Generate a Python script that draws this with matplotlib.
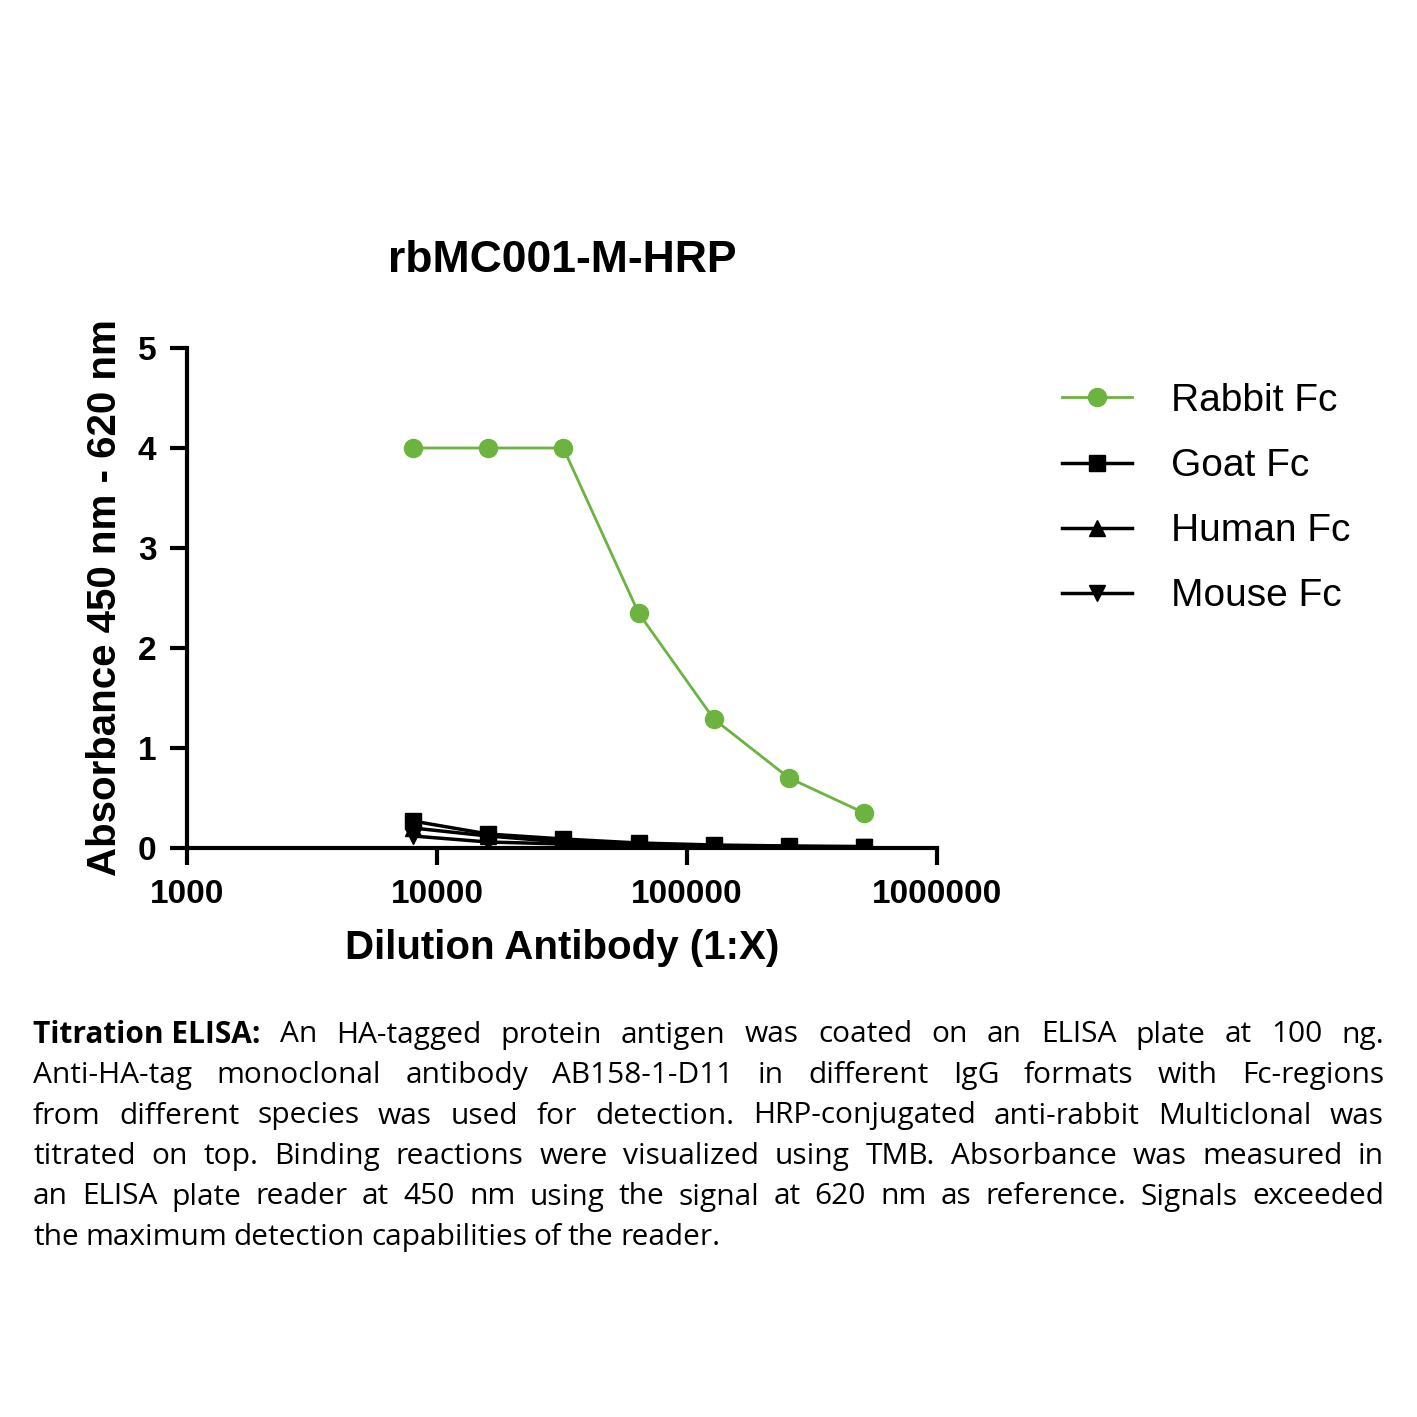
import matplotlib

matplotlib.use("Agg")

import matplotlib.pyplot as plt

plt.rcParams["font.family"] = "Liberation Sans"

DILUTION = [8000, 16000, 32000, 64000, 128000, 256000, 512000]
RABBIT = [4.0, 4.0, 4.0, 2.35, 1.29, 0.70, 0.35]
GOAT = [0.27, 0.14, 0.09, 0.05, 0.03, 0.02, 0.015]
HUMAN = [0.20, 0.12, 0.06, 0.03, 0.02, 0.015, 0.01]
MOUSE = [0.12, 0.06, 0.04, 0.02, 0.02, 0.01, 0.01]
X_TICKS = [1000, 10000, 100000, 1000000]

CAPTION = [
    ("Titration ELISA:", " An HA-tagged protein antigen was coated on an ELISA plate at 100 ng."),
    ("", "Anti-HA-tag monoclonal antibody AB158-1-D11 in different IgG formats with Fc-regions"),
    ("", "from different species was used for detection. HRP-conjugated anti-rabbit Multiclonal was"),
    ("", "titrated on top. Binding reactions were visualized using TMB. Absorbance was measured in"),
    ("", "an ELISA plate reader at 450 nm using the signal at 620 nm as reference. Signals exceeded"),
    ("", "the maximum detection capabilities of the reader."),
]

W = 1417
fig = plt.figure(figsize=(14.17, 14.17), dpi=100)
ax = fig.add_axes([187 / W, 1 - 848 / W, 750 / W, 500 / W])

ax.plot(DILUTION, RABBIT, color="#6cb33f", marker="o", ms=13, lw=2, label="Rabbit Fc", zorder=5)
ax.plot(DILUTION, GOAT, color="black", marker="s", ms=12, lw=2.5, label="Goat Fc", zorder=4)
ax.plot(DILUTION, HUMAN, color="black", marker="^", ms=12, lw=2.5, label="Human Fc", zorder=3)
ax.plot(DILUTION, MOUSE, color="black", marker="v", ms=12, lw=2.5, label="Mouse Fc", zorder=3)

ax.set_xscale("log")
ax.set_xlim(1000, 1000000)
ax.set_ylim(0, 5)
ax.set_xticks(X_TICKS)
ax.set_xticklabels([str(t) for t in X_TICKS])
ax.minorticks_off()
ax.set_yticks([0, 1, 2, 3, 4, 5])
for s in ["top", "right"]:
    ax.spines[s].set_visible(False)
for s in ["left", "bottom"]:
    ax.spines[s].set_linewidth(3)
ax.tick_params(width=3, length=12, labelsize=24, pad=10)
for lab in ax.get_xticklabels() + ax.get_yticklabels():
    lab.set_fontweight("bold")
ax.set_xlabel("Dilution Antibody (1:X)", fontsize=29, fontweight="bold", labelpad=14)
ax.set_ylabel("Absorbance 450 nm - 620 nm", fontsize=29, fontweight="bold", labelpad=10)
ax.set_title("rbMC001-M-HRP", fontsize=32, fontweight="bold", pad=55)

ax.legend(loc="upper left", bbox_to_anchor=(1.12, 1.0), frameon=False, fontsize=28,
          handlelength=1.8, labelspacing=0.75, handletextpad=1.0)

# justified caption
fig.canvas.draw()
renderer = fig.canvas.get_renderer()
left, right = 33, 1384
fs = 21.5
for i, (bold, rest) in enumerate(CAPTION):
    y = 1 - (1035 + i * 40.5) / W
    words = []
    if bold:
        words.append((bold, "bold"))
    words += [(w, "normal") for w in rest.split()]
    arts = [fig.text(0, y, w, fontsize=fs, fontweight=wt, family="Open Sans", va="center") for w, wt in words]
    widths = [a.get_window_extent(renderer).width for a in arts]
    last = i == len(CAPTION) - 1
    space = fs * 0.3
    gap = space if last or len(arts) < 2 else (right - left - sum(widths)) / (len(arts) - 1)
    x = left
    for a, wd in zip(arts, widths):
        a.set_x(x / W)
        x += wd + gap

fig.savefig("out.png", dpi=100)
